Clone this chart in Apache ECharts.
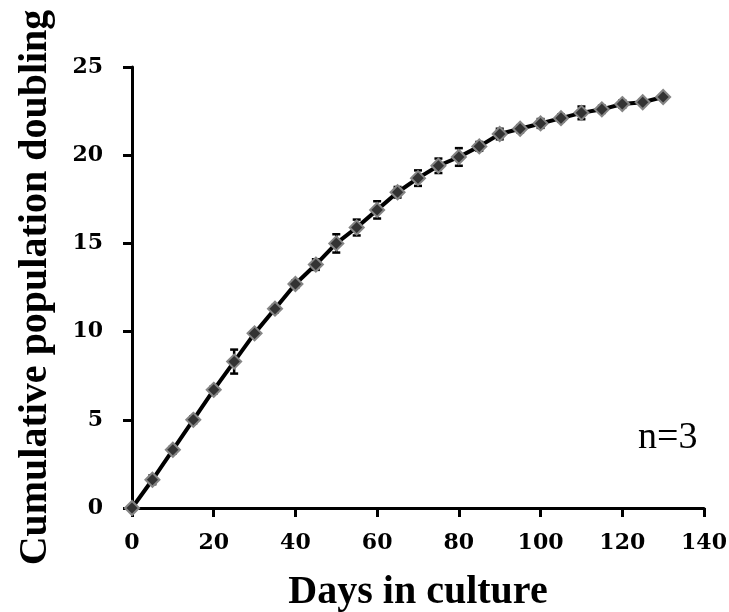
<!DOCTYPE html>
<html>
<head>
<meta charset="utf-8">
<script src="https://cdn.jsdelivr.net/npm/echarts@6/dist/echarts.min.js"></script>
<style>
  html, body { margin: 0; padding: 0; background: #fff; }
  #chart { width: 729px; height: 612px; }
</style>
</head>
<body>
<div id="chart"></div>
<script>
// Days in culture at each passage
const days = [0, 5, 10, 15, 20, 25, 30, 35, 40, 45, 50, 55, 60, 65, 70,
              75, 80, 85, 90, 95, 100, 105, 110, 115, 120, 125, 130];
// Mean cumulative population doubling
const cpd = [0, 1.6, 3.3, 5.0, 6.7, 8.3, 9.9, 11.3, 12.7, 13.8, 15.0, 15.9, 16.9, 17.9, 18.7,
             19.4, 19.9, 20.5, 21.2, 21.5, 21.8, 22.1, 22.4, 22.6, 22.9, 23.0, 23.3];
// Standard deviation (n = 3)
const sd = [0, 0.25, 0.2, 0.2, 0.2, 0.68, 0.15, 0.2, 0.2, 0.3, 0.52, 0.45, 0.49, 0.3, 0.44,
            0.41, 0.5, 0.25, 0.3, 0.2, 0.25, 0.2, 0.36, 0.2, 0.2, 0.15, 0.15];

const xTitle = 'Days in culture';
const yTitle = 'Cumulative population doubling';
const noteText = 'n=3';

const tickFont = { fontFamily: 'DejaVu Serif', fontWeight: 'bold', fontSize: 22, color: '#000' };
const titleFont = { fontFamily: 'Liberation Serif', fontWeight: 'bold', fontSize: 40, color: '#000' };

const meanPoints = days.map((d, i) => [d, cpd[i]]);
const errPoints = days.map((d, i) => [d, cpd[i] - sd[i], cpd[i] + sd[i]]);

function renderErrorBar(params, api) {
  const x = api.value(0);
  const top = api.coord([x, api.value(2)]);
  const bot = api.coord([x, api.value(1)]);
  const half = 4;
  const style = { stroke: '#000', lineWidth: 2.5 };
  return {
    type: 'group',
    children: [
      { type: 'line', shape: { x1: top[0], y1: top[1], x2: bot[0], y2: bot[1] }, style },
      { type: 'line', shape: { x1: top[0] - half, y1: top[1], x2: top[0] + half, y2: top[1] }, style },
      { type: 'line', shape: { x1: bot[0] - half, y1: bot[1], x2: bot[0] + half, y2: bot[1] }, style }
    ]
  };
}

const chart = echarts.init(document.getElementById('chart'), null, { renderer: 'canvas' });

chart.setOption({
  animation: false,
  backgroundColor: '#fff',
  grid: { left: 132, right: 25, top: 67, bottom: 104, containLabel: false, outerBoundsMode: 'none' },
  xAxis: {
    type: 'value',
    min: 0, max: 140, interval: 20,
    name: xTitle,
    nameLocation: 'middle',
    nameGap: 65,
    nameTextStyle: titleFont,
    axisLine: { show: true, onZero: false, lineStyle: { color: '#000', width: 3 } },
    axisTick: { show: true, length: 9, lineStyle: { color: '#000', width: 3 } },
    axisLabel: Object.assign({ margin: 24 }, tickFont),
    splitLine: { show: false }
  },
  yAxis: {
    type: 'value',
    min: 0, max: 25, interval: 5,
    name: yTitle,
    nameLocation: 'middle',
    nameGap: 76,
    nameTextStyle: titleFont,
    axisLine: { show: true, onZero: false, lineStyle: { color: '#000', width: 3 } },
    axisTick: { show: true, length: 9, lineStyle: { color: '#000', width: 3 } },
    axisLabel: Object.assign({ margin: 29 }, tickFont),
    splitLine: { show: false }
  },
  series: [
    {
      type: 'custom',
      renderItem: renderErrorBar,
      data: errPoints,
      encode: { x: 0, y: [1, 2] },
      z: 3
    },
    {
      type: 'line',
      data: meanPoints,
      symbol: 'diamond',
      symbolSize: 14,
      showAllSymbol: true,
      lineStyle: { color: '#000', width: 4 },
      itemStyle: { color: '#333', borderColor: '#858585', borderWidth: 2 },
      z: 4
    }
  ],
  graphic: [
    {
      type: 'text',
      x: 638,
      y: 438,
      style: {
        text: noteText,
        font: '38px "Liberation Serif"',
        fill: '#000',
        textAlign: 'left',
        textVerticalAlign: 'middle'
      }
    }
  ]
});
</script>
</body>
</html>
